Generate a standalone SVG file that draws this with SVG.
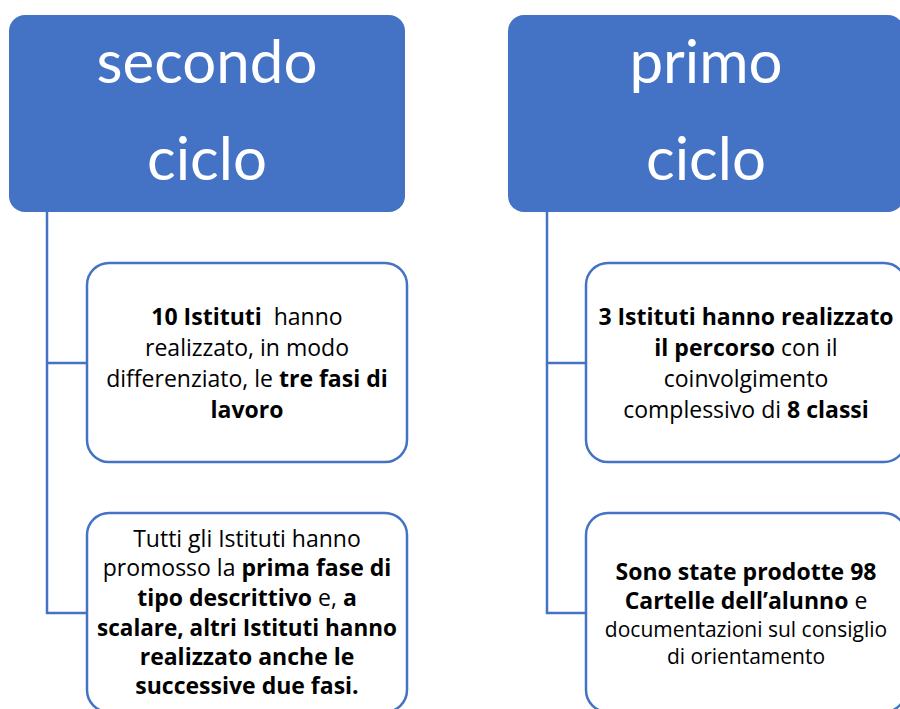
<svg xmlns="http://www.w3.org/2000/svg" width="900" height="709" viewBox="0 0 900 709">
<style>
.hdr{fill:#4472C4;}
.hdrtxt{fill:#ffffff;font-family:Lato,"Open Sans",sans-serif;font-size:60px;text-anchor:middle;}
.box{fill:#ffffff;stroke:#4472C4;stroke-width:2.5;}
.txt{fill:#000000;font-family:"Open Sans",Lato,sans-serif;font-size:23px;text-anchor:middle;font-variant-ligatures:none;}
.sm{font-size:21px;}
.b{font-weight:bold;}
.conn{fill:none;stroke:#4472C4;stroke-width:2.5;}
</style>
<rect width="900" height="709" fill="#ffffff"/>
<g id="connectors">
<path class="conn" d="M47,212 V613 H87 M47,363 H87"/>
<path class="conn" d="M547,212 V613 H586 M547,363 H586"/>
</g>
<g id="secondo-ciclo">
<rect class="hdr" x="9" y="15" width="396" height="197" rx="16"/>
<text class="hdrtxt" x="207" y="83">secondo</text>
<text class="hdrtxt" x="207" y="180">ciclo</text>
</g>
<g id="primo-ciclo">
<rect class="hdr" x="508" y="15" width="396" height="197" rx="16"/>
<text class="hdrtxt" x="706" y="83">primo</text>
<text class="hdrtxt" x="706" y="180">ciclo</text>
</g>
<g id="sc-box1">
<rect class="box" x="87" y="263" width="320" height="199" rx="22"/>
<text class="txt" x="247" y="325" xml:space="preserve"><tspan class="b">10 Istituti</tspan>  hanno</text>
<text class="txt" x="247" y="356">realizzato, in modo</text>
<text class="txt" x="247" y="387">differenziato, le <tspan class="b">tre fasi di</tspan></text>
<text class="txt" x="247" y="418"><tspan class="b">lavoro</tspan></text>
</g>
<g id="sc-box2">
<rect class="box" x="87" y="513" width="320" height="199" rx="22"/>
<text class="txt" x="247" y="547">Tutti gli Istituti hanno</text>
<text class="txt" x="247" y="576">promosso la <tspan class="b">prima fase di</tspan></text>
<text class="txt" x="247" y="606"><tspan class="b">tipo descrittivo</tspan> e, <tspan class="b">a</tspan></text>
<text class="txt" x="247" y="636" style="font-size:22.5px"><tspan class="b">scalare, altri Istituti hanno</tspan></text>
<text class="txt" x="247" y="665"><tspan class="b">realizzato anche le</tspan></text>
<text class="txt" x="247" y="694"><tspan class="b">successive due fasi.</tspan></text>
</g>
<g id="pc-box1">
<rect class="box" x="586" y="263" width="320" height="199" rx="22"/>
<text class="txt" x="746" y="325"><tspan class="b">3 Istituti hanno realizzato</tspan></text>
<text class="txt" x="746" y="356"><tspan class="b">il percorso</tspan> con il</text>
<text class="txt" x="746" y="387">coinvolgimento</text>
<text class="txt" x="746" y="418">complessivo di <tspan class="b">8 classi</tspan></text>
</g>
<g id="pc-box2">
<rect class="box" x="586" y="513" width="320" height="199" rx="22"/>
<text class="txt" x="746" y="580"><tspan class="b">Sono state prodotte 98</tspan></text>
<text class="txt" x="746" y="609"><tspan class="b">Cartelle dell’alunno</tspan> e</text>
<text class="txt sm" x="746" y="637">documentazioni sul consiglio</text>
<text class="txt sm" x="746" y="664">di orientamento</text>
</g>
</svg>
